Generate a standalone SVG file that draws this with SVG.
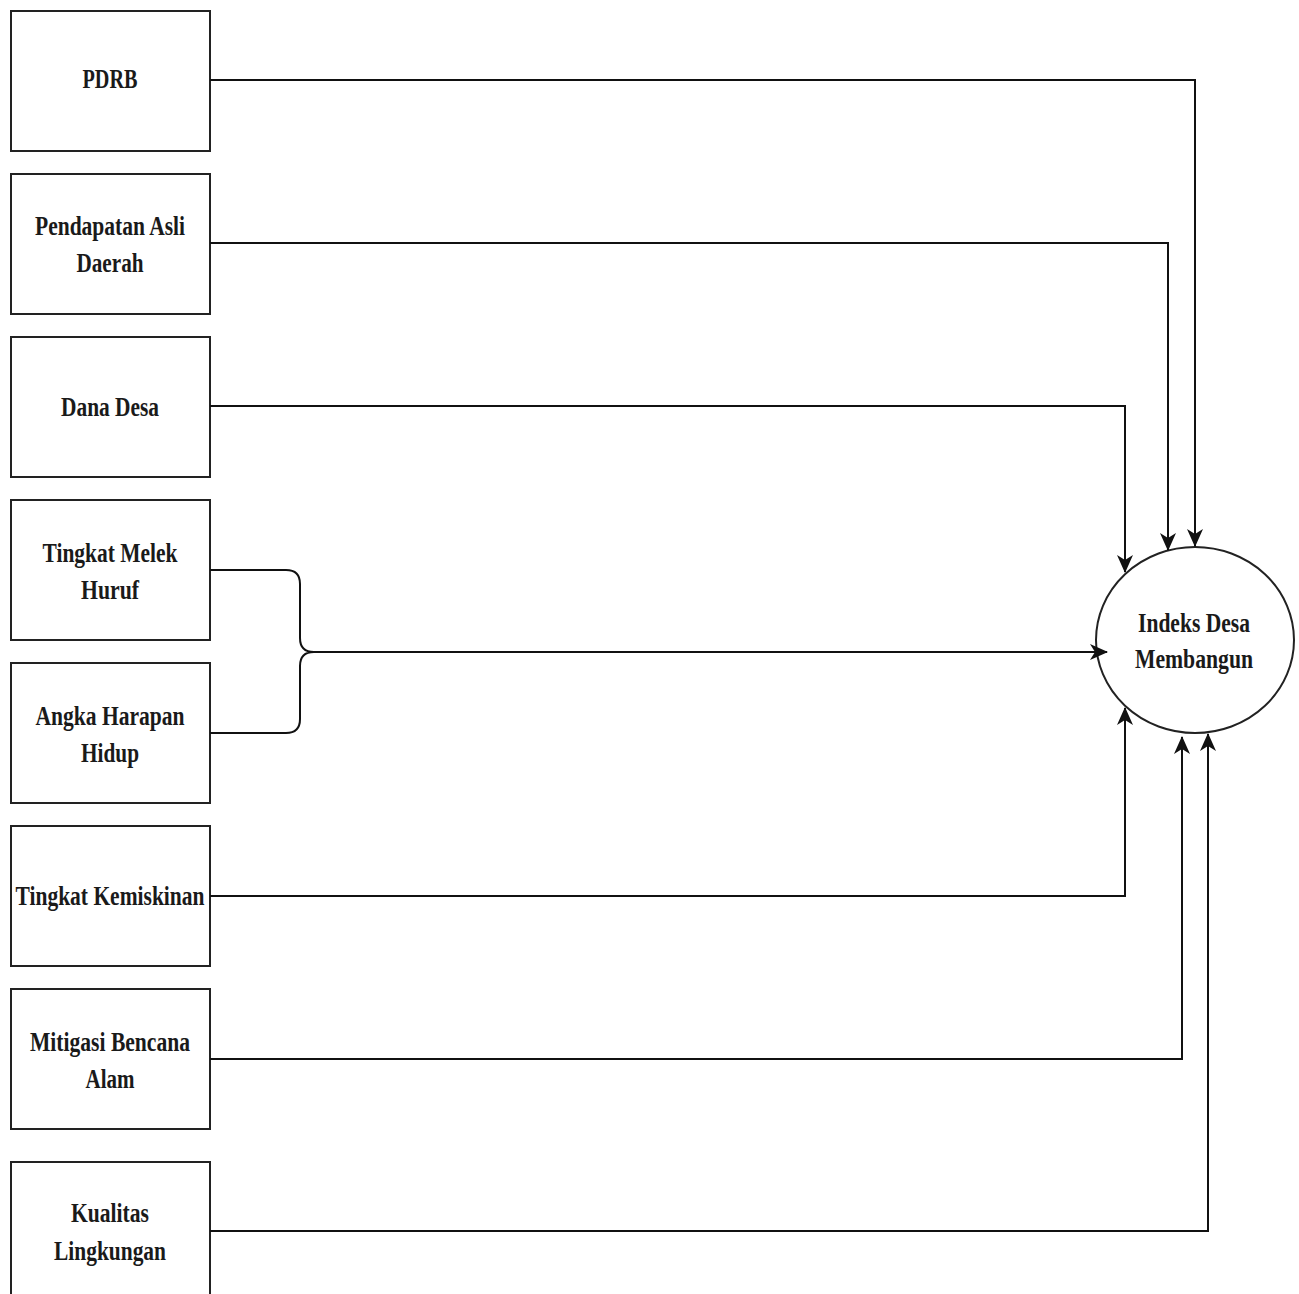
<svg xmlns="http://www.w3.org/2000/svg" width="1299" height="1294" viewBox="0 0 1299 1294">
<style>
.box{fill:#fff;stroke:#222;stroke-width:2}
.lbl{font-family:"Liberation Serif",serif;font-size:27px;font-weight:bold;fill:#1a1a1a;text-anchor:middle}
.conn{fill:none;stroke:#111;stroke-width:2}
</style>
<defs>
<marker id="arr" markerUnits="userSpaceOnUse" markerWidth="20" markerHeight="18" refX="17" refY="9" orient="auto" overflow="visible">
<path d="M0,1 L18,9 L0,17 L5,9 Z" fill="#111"/>
</marker>
</defs>
<rect width="1299" height="1294" fill="#fff"/>
<g id="n1"><rect class="box" x="11" y="11" width="199" height="140"/><text class="lbl" x="110" y="88" textLength="55" lengthAdjust="spacingAndGlyphs">PDRB</text></g>
<g id="n2"><rect class="box" x="11" y="174" width="199" height="140"/><text class="lbl" x="110" y="235" textLength="150" lengthAdjust="spacingAndGlyphs">Pendapatan Asli</text><text class="lbl" x="110" y="272" textLength="67" lengthAdjust="spacingAndGlyphs">Daerah</text></g>
<g id="n3"><rect class="box" x="11" y="337" width="199" height="140"/><text class="lbl" x="110" y="416" textLength="98" lengthAdjust="spacingAndGlyphs">Dana Desa</text></g>
<g id="n4"><rect class="box" x="11" y="500" width="199" height="140"/><text class="lbl" x="110" y="562" textLength="135" lengthAdjust="spacingAndGlyphs">Tingkat Melek</text><text class="lbl" x="110" y="599" textLength="58" lengthAdjust="spacingAndGlyphs">Huruf</text></g>
<g id="n5"><rect class="box" x="11" y="663" width="199" height="140"/><text class="lbl" x="110" y="725" textLength="149" lengthAdjust="spacingAndGlyphs">Angka Harapan</text><text class="lbl" x="110" y="762" textLength="58" lengthAdjust="spacingAndGlyphs">Hidup</text></g>
<g id="n6"><rect class="box" x="11" y="826" width="199" height="140"/><text class="lbl" x="110" y="905" textLength="189" lengthAdjust="spacingAndGlyphs">Tingkat Kemiskinan</text></g>
<g id="n7"><rect class="box" x="11" y="989" width="199" height="140"/><text class="lbl" x="110" y="1051" textLength="160" lengthAdjust="spacingAndGlyphs">Mitigasi Bencana</text><text class="lbl" x="110" y="1088" textLength="49" lengthAdjust="spacingAndGlyphs">Alam</text></g>
<g id="n8"><rect class="box" x="11" y="1162" width="199" height="140"/><text class="lbl" x="110" y="1222" textLength="78" lengthAdjust="spacingAndGlyphs">Kualitas</text><text class="lbl" x="110" y="1260" textLength="112" lengthAdjust="spacingAndGlyphs">Lingkungan</text></g>
<g id="n9"><ellipse class="box" cx="1195" cy="640" rx="99" ry="93"/><text class="lbl" x="1194" y="632" textLength="112" lengthAdjust="spacingAndGlyphs">Indeks Desa</text><text class="lbl" x="1194" y="668" textLength="118" lengthAdjust="spacingAndGlyphs">Membangun</text></g>
<g id="connectors">
<path class="conn" d="M210,80 H1195 V546" marker-end="url(#arr)"/>
<path class="conn" d="M210,243 H1168 V550" marker-end="url(#arr)"/>
<path class="conn" d="M210,406 H1125 V572" marker-end="url(#arr)"/>
<path class="conn" d="M210,570 H286 Q300,570 300,584 V638 Q300,652 314,652 Q300,652 300,666 V719 Q300,733 286,733 H210"/>
<path class="conn" d="M314,652 H1107" marker-end="url(#arr)"/>
<path class="conn" d="M210,896 H1125 V708" marker-end="url(#arr)"/>
<path class="conn" d="M210,1059 H1182 V737" marker-end="url(#arr)"/>
<path class="conn" d="M210,1231 H1208 V734" marker-end="url(#arr)"/>
</g>
</svg>
